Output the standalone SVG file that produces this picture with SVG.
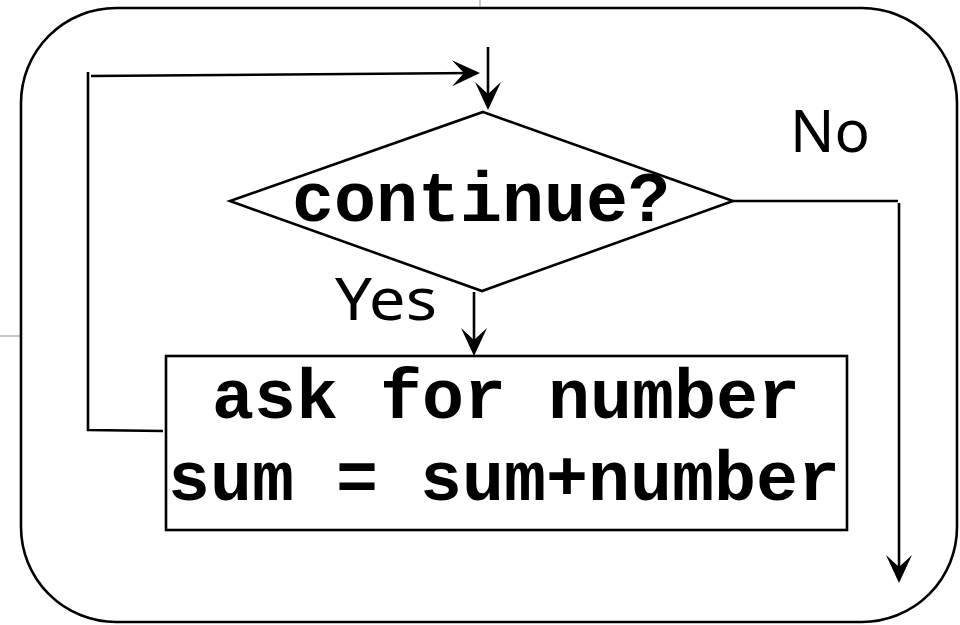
<svg xmlns="http://www.w3.org/2000/svg" width="960" height="625" viewBox="0 0 960 625">
  <style>
    .ln { fill: none; stroke: #000; stroke-width: 2.6; }
    .shape { fill: #fff; stroke: #000; stroke-width: 2.6; }
    .code { font-family: "Liberation Mono", "Courier New", monospace; font-weight: bold; font-size: 70px; fill: #000; }
    .hand { font-family: "Comic Sans MS", "Noto Sans", "DejaVu Sans", sans-serif; font-size: 58px; fill: #000; }
    .guide { stroke: #c8c8c8; stroke-width: 2; }
  </style>
  <defs>
    <marker id="arrow" viewBox="-30 -15 32 30" markerWidth="32" markerHeight="30" refX="-6" refY="0" markerUnits="userSpaceOnUse" orient="auto">
      <path d="M0,0 L-28,-13 L-16,0 L-28,13 Z" fill="#000"/>
    </marker>
  </defs>

  <rect width="960" height="625" fill="#fff"/>

  <!-- faint page guides -->
  <line class="guide" x1="480" y1="0" x2="480" y2="7"/>
  <line class="guide" x1="0" y1="336" x2="20" y2="336"/>

  <!-- outer frame -->
  <g id="frame">
    <rect class="ln" x="21" y="8" width="936" height="614" rx="95" ry="95"/>
  </g>

  <!-- connectors -->
  <g id="connectors">
    <!-- loop back from the box to the decision -->
    <path class="ln" d="M163,431 L88,430 L88,72"/>
    <path class="ln" d="M91,76 L474,73" marker-end="url(#arrow)"/>
    <!-- entry into the decision -->
    <path class="ln" d="M488,47 L488,104" marker-end="url(#arrow)"/>
    <!-- Yes branch -->
    <path class="ln" d="M474,292 L474,350" marker-end="url(#arrow)"/>
    <!-- No branch -->
    <path class="ln" d="M733,201 L898,201"/>
    <path class="ln" d="M899,203 L899,577" marker-end="url(#arrow)"/>
  </g>

  <!-- decision -->
  <g id="decision">
    <polygon class="shape" points="483,112 733,201 482,291 230,201"/>
    <text class="code" x="481" y="221" text-anchor="middle">continue?</text>
  </g>

  <!-- process box -->
  <g id="process">
    <rect class="shape" x="166" y="356" width="681" height="174"/>
    <text class="code" x="506" y="418" text-anchor="middle">ask for number</text>
    <text class="code" x="504" y="500" text-anchor="middle">sum = sum+number</text>
  </g>

  <!-- branch labels -->
  <g id="labels">
    <text class="hand" x="335" y="320" textLength="102" lengthAdjust="spacingAndGlyphs">Yes</text>
    <text class="hand" x="790" y="152" textLength="80" lengthAdjust="spacingAndGlyphs">No</text>
  </g>
</svg>
